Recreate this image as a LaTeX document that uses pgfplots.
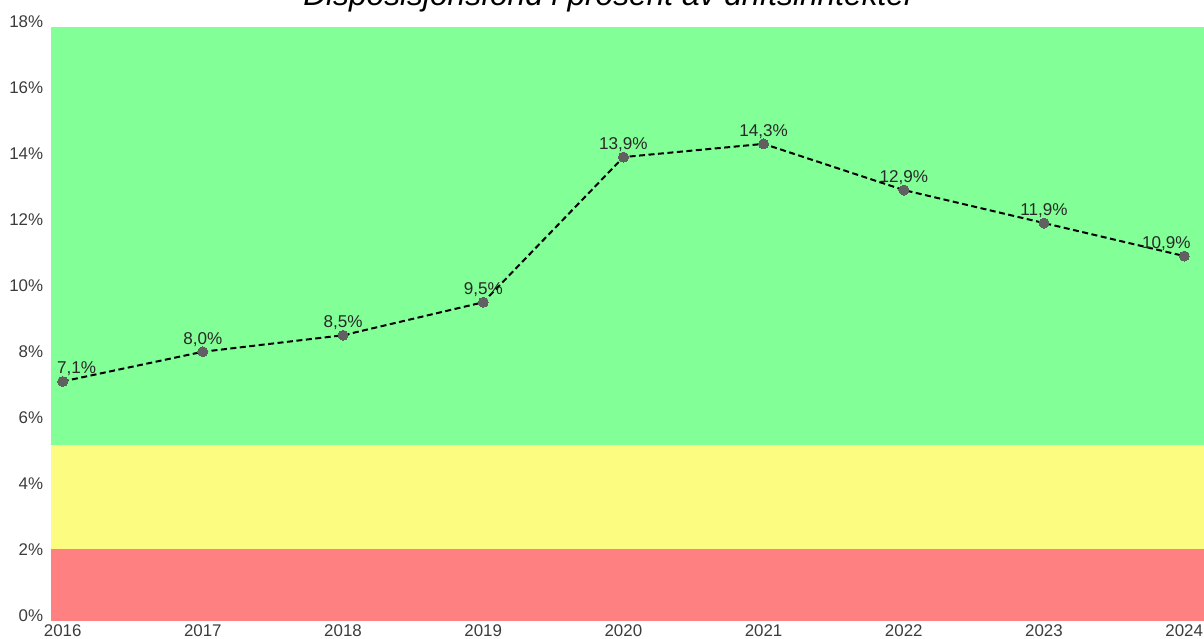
\documentclass[border=0pt]{standalone}
\usepackage{fontspec}
\setmainfont{Liberation Sans}
\usepackage{pgfplots}
\pgfplotsset{compat=1.18}
\usepackage{pgfplotstable}
\definecolor{bandgreen}{RGB}{130,255,150}
\definecolor{bandyellow}{RGB}{252,252,128}
\definecolor{bandred}{RGB}{255,128,128}
\definecolor{markgray}{RGB}{96,96,96}
\definecolor{labgray}{RGB}{40,40,40}
\definecolor{tickgray}{RGB}{60,60,60}

\pgfplotstableread{
year val dx
2016 7.1 14
2017 8.0 0
2018 8.5 0
2019 9.5 0
2020 13.9 0
2021 14.3 0
2022 12.9 0
2023 11.9 0
2024 10.9 -18
}\datatable

\begin{document}
\begin{tikzpicture}
\begin{axis}[
 at={(0pt,0pt)}, anchor=south west,
 scale only axis, width=1152.7pt, height=599.2pt,
 xmin=2015.919, xmax=2024.141, ymin=-0.16, ymax=18,
 axis line style={draw=none}, major tick length=0pt,
 xtick={2016,...,2024}, ytick={0,2,...,18},
 /pgf/number format/assume math mode=true,
 /pgf/number format/1000 sep={},
 xticklabel style={font=\fontsize{16.9}{19}\selectfont, text=tickgray, anchor=north, inner sep=0pt, yshift=-4pt},
 yticklabel style={font=\fontsize{16.9}{19}\selectfont, text=tickgray, anchor=east, inner sep=0pt, xshift=-8pt},
 yticklabel={\pgfmathprintnumber{\tick}\%},
 clip=false,
]
\addplot[draw=none, fill=bandred] coordinates {(2015.919,-0.16) (2024.141,-0.16) (2024.141,2.02) (2015.919,2.02)} -- cycle;
\addplot[draw=none, fill=bandyellow] coordinates {(2015.919,2.02) (2024.141,2.02) (2024.141,5.17) (2015.919,5.17)} -- cycle;
\addplot[draw=none, fill=bandgreen] coordinates {(2015.919,5.17) (2024.141,5.17) (2024.141,17.83) (2015.919,17.83)} -- cycle;
\addplot[black, line width=2pt, dash pattern=on 6pt off 3.5pt,
  mark=*, mark size=5pt, mark options={solid, fill=markgray, draw=markgray, line width=0pt},
  visualization depends on={\thisrow{dx} \as \dx},
  nodes near coords={\pgfmathprintnumber[fixed, fixed zerofill, precision=1, use comma]{\pgfplotspointmeta}\%},
  every node near coord/.append style={font=\fontsize{17.1}{19}\selectfont, text=labgray, anchor=base, inner sep=0pt, yshift=7.5pt, xshift=\dx pt},
] table[x=year, y=val] {\datatable};
\end{axis}
\node[font=\fontsize{31.7}{36}\selectfont\itshape, anchor=base, inner sep=0pt] at (557.7pt,615pt) {Disposisjonsfond i prosent av driftsinntekter};
\pgfresetboundingbox
\path[use as bounding box] (-51.3pt,-18pt) rectangle (1152.7pt,621pt);
\end{tikzpicture}
\end{document}
